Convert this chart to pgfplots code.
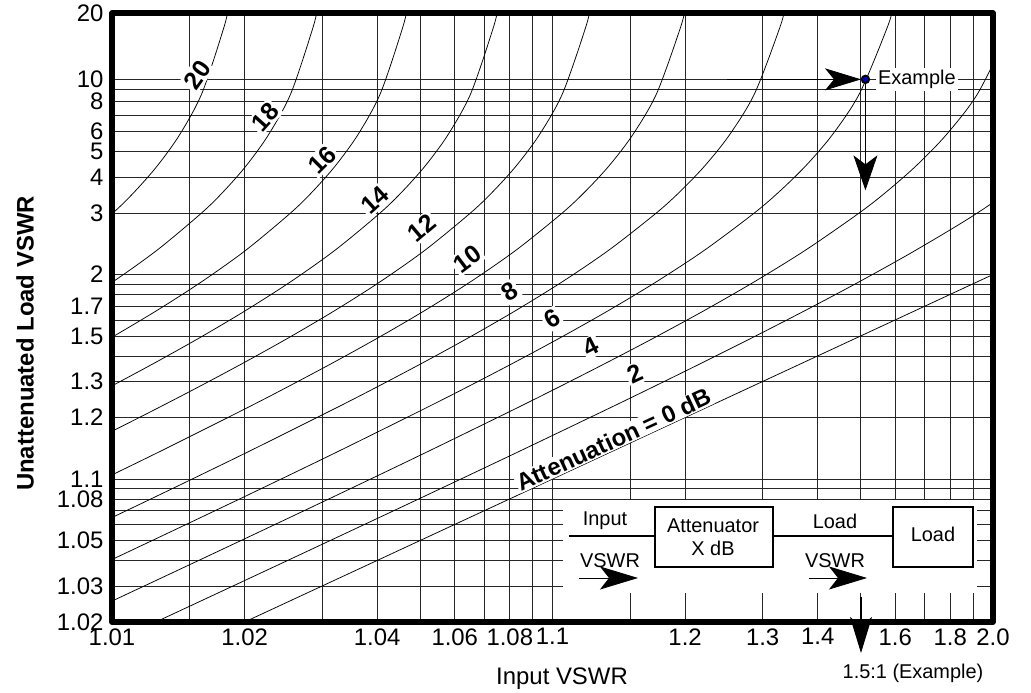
\documentclass[border=0pt]{standalone}
\usepackage{fontspec}
\setmainfont{Liberation Sans}
\usepackage{pgfplots}
\pgfplotsset{compat=1.18}
\usetikzlibrary{arrows.meta}
\begin{document}
\begin{tikzpicture}
\useasboundingbox (-112bp,-71bp) rectangle (919bp,622bp);
\begin{axis}[
  at={(0,0)}, anchor=south west,
  scale only axis, width=881bp, height=609bp,
  xmin=-2, xmax=0, ymin=-1.69897, ymax=1.27875,
  clip mode=individual,
  xtick={-2,-1.69897,-1.39794,-1.22185,-1.09691,-1,-0.69897,-0.52288,-0.39794,-0.22185,-0.09691,0},
  xticklabels={1.01,1.02,1.04,1.06,1.08,1.1,1.2,1.3,1.4,1.6,1.8,2.0},
  minor xtick={-1.82391,-1.52288,-1.30103,-1.15490,-1.04576,-0.82391,-0.30103,-0.15490,-0.04576},
  ytick={-1.69897,-1.52288,-1.30103,-1.09691,-1,-0.69897,-0.52288,-0.30103,-0.15490,0,0.30103,0.47712,0.60206,0.69897,0.84510,0.95424,1.27875},
  yticklabels={1.02,1.03,1.05,1.08,1.1,1.2,1.3,1.5,1.7,2,3,4,5,6,8,10,20},
  minor ytick={-1.39794,-1.22185,-1.15490,-1.04576,-0.39794,-0.22185,-0.09691,-0.04576,0.77815,0.90309},
  grid=both,
  major grid style={black!85, line width=0.65pt},
  minor grid style={black!85, line width=0.65pt},
  major tick length=0pt, minor tick length=0pt,
  tick label style={font=\fontsize{24}{24}\selectfont},
  xticklabel style={yshift=-3bp},
  yticklabel style={xshift=-5bp},
  xlabel={Input VSWR},
  ylabel={\bfseries Unattenuated Load VSWR},
  label style={font=\fontsize{24}{24}\selectfont},
  xlabel style={at={(axis description cs:0.5108,-0.0936)}, anchor=center},
  ylabel style={at={(axis description cs:-0.0988,0.4573)}, anchor=center},
]
% 0 dB
\addplot[black, line width=0.75pt] coordinates {(-2.1,-2.1) (0.1,0.1)};
% 2 dB
\addplot[black, line width=0.75pt, smooth] coordinates {
(-2.09724,-1.89622) (-1.89622,-1.69461) (-1.69461,-1.49203) (-1.49203,-1.28792)
(-1.28792,-1.08133) (-1.08133,-0.87067) (-0.87067,-0.65321) (-0.76302,-0.54054)
(-0.65321,-0.42403) (-0.54054,-0.30232) (-0.42403,-0.17334) (-0.30232,-0.03388)
(-0.17334,0.12151) (-0.03388,0.30309) (0.12151,0.53395)};
% 4 dB
\addplot[black, line width=0.75pt, smooth] coordinates {
(-2.09724,-1.69461) (-1.89622,-1.49203) (-1.69461,-1.28792) (-1.49203,-1.08133)
(-1.28792,-0.87067) (-1.08133,-0.65321) (-0.97664,-0.54054) (-0.87067,-0.42403)
(-0.76302,-0.30232) (-0.65321,-0.17334) (-0.54054,-0.03388) (-0.42403,0.12151)
(-0.30232,0.30309) (-0.23890,0.40989) (-0.17334,0.53395) (-0.10519,0.68557)
(-0.03388,0.88786) (0.04134,1.21460)};
% 6 dB
\addplot[black, line width=0.75pt, smooth] coordinates {
(-2.09724,-1.49203) (-1.89622,-1.28792) (-1.69461,-1.08133) (-1.49203,-0.87067)
(-1.28792,-0.65321) (-1.18501,-0.54054) (-1.08133,-0.42403) (-0.97664,-0.30232)
(-0.87067,-0.17334) (-0.76302,-0.03388) (-0.65321,0.12151) (-0.54054,0.30309)
(-0.48284,0.40989) (-0.42403,0.53395) (-0.36393,0.68557) (-0.30232,0.88786)
(-0.23890,1.21460) (-0.22598,1.31660)};
% 8 dB
\addplot[black, line width=0.75pt, smooth] coordinates {
(-2.09724,-1.28792) (-1.89622,-1.08133) (-1.69461,-0.87067) (-1.49203,-0.65321)
(-1.39022,-0.54054) (-1.28792,-0.42403) (-1.18501,-0.30232) (-1.08133,-0.17334)
(-0.97664,-0.03388) (-0.87067,0.12151) (-0.76302,0.30309) (-0.70843,0.40989)
(-0.65321,0.53395) (-0.59728,0.68557) (-0.54054,0.88786) (-0.48284,1.21460)
(-0.47117,1.31660)};
% 10 dB
\addplot[black, line width=0.75pt, smooth] coordinates {
(-2.09724,-1.08133) (-1.89622,-0.87067) (-1.69461,-0.65321) (-1.59347,-0.54054)
(-1.49203,-0.42403) (-1.39022,-0.30232) (-1.28792,-0.17334) (-1.18501,-0.03388)
(-1.08133,0.12151) (-0.97664,0.30309) (-0.92383,0.40989) (-0.87067,0.53395)
(-0.81708,0.68557) (-0.76302,0.88786) (-0.70843,1.21460) (-0.69744,1.31660)};
% 12 dB
\addplot[black, line width=0.75pt, smooth] coordinates {
(-2.09724,-0.87067) (-1.99679,-0.76302) (-1.89622,-0.65321) (-1.79551,-0.54054)
(-1.69461,-0.42403) (-1.59347,-0.30232) (-1.49203,-0.17334) (-1.39022,-0.03388)
(-1.28792,0.12151) (-1.18501,0.30309) (-1.13328,0.40989) (-1.08133,0.53395)
(-1.02912,0.68557) (-0.97664,0.88786) (-0.92383,1.21460) (-0.91323,1.31660)};
% 14 dB
\addplot[black, line width=0.75pt, smooth] coordinates {
(-2.09724,-0.65321) (-1.99679,-0.54054) (-1.89622,-0.42403) (-1.79551,-0.30232)
(-1.69461,-0.17334) (-1.59347,-0.03388) (-1.49203,0.12151) (-1.39022,0.30309)
(-1.33914,0.40989) (-1.28792,0.53395) (-1.23655,0.68557) (-1.18501,0.88786)
(-1.13328,1.21460) (-1.12291,1.31660)};
% 16 dB
\addplot[black, line width=0.75pt, smooth] coordinates {
(-2.09724,-0.42403) (-1.99679,-0.30232) (-1.89622,-0.17334) (-1.79551,-0.03388)
(-1.69461,0.12151) (-1.59347,0.30309) (-1.54279,0.40989) (-1.49203,0.53395)
(-1.44118,0.68557) (-1.39022,0.88786) (-1.33914,1.21460) (-1.32891,1.31660)};
% 18 dB
\addplot[black, line width=0.75pt, smooth] coordinates {
(-2.09724,-0.17334) (-1.99679,-0.03388) (-1.89622,0.12151) (-1.79551,0.30309)
(-1.74508,0.40989) (-1.69461,0.53395) (-1.64407,0.68557) (-1.59347,0.88786)
(-1.54279,1.21460) (-1.53265,1.31660)};
% 20 dB
\addplot[black, line width=0.75pt, smooth] coordinates {
(-2.09724,0.12151) (-1.99679,0.30309) (-1.94652,0.40989) (-1.89622,0.53395)
(-1.84588,0.68557) (-1.79551,0.88786) (-1.74508,1.21460) (-1.73499,1.31660)};
% example arrows
\draw[line width=0.8pt, -{Stealth[length=36bp,width=22bp,inset=9bp]}] (axis cs:-0.60386,0.95424) -- (axis cs:-0.29966,0.95424);
\draw[line width=0.8pt, -{Stealth[length=35bp,width=24bp,inset=9bp]}] (axis cs:-0.2896,0.93) -- (axis cs:-0.2896,0.4115);
\addplot[only marks, mark=*, mark size=3.8pt, mark options={fill=blue!70!black, draw=black, line width=1.8pt}] coordinates {(-0.2896,0.95424)};
\node[anchor=west, fill=white, inner sep=2.5bp, font=\fontsize{20}{20}\selectfont] at (axis cs:-0.2669,0.95424) {Example};
\end{axis}
\begin{scope}[x=1bp, y=-1bp, shift={(-112bp,622bp)}]
\tikzset{lbl/.style={fill=white, inner sep=2bp, font=\fontsize{25}{25}\selectfont\bfseries}}
\node[lbl, rotate=55] at (197,75) {20};
\node[lbl, rotate=48] at (265,117) {18};
\node[lbl, rotate=45] at (322,160) {16};
\node[lbl, rotate=42] at (375,200) {14};
\node[lbl, rotate=40] at (422,228) {12};
\node[lbl, rotate=37] at (467,259) {10};
\node[lbl, rotate=33] at (510,292) {8};
\node[lbl, rotate=30] at (552,319) {6};
\node[lbl, rotate=27] at (591,347) {4};
\node[lbl, rotate=25] at (635,374) {2};
\node[fill=white, inner sep=1bp, anchor=south, rotate=24.9, font=\fontsize{24}{24}\selectfont\bfseries] at (617.8,448.6) {Attenuation = 0 dB};
% inset
\fill[white] (563,500) rectangle (977,593);
\draw[line width=2pt] (569,536) -- (655,536);
\draw[line width=2pt] (773,536) -- (893,536);
\draw[line width=1.5pt] (655,507) rectangle (773,567);
\draw[line width=1.5pt] (893,507) rectangle (973,567);
\node[font=\fontsize{20}{23}\selectfont, align=center] at (713,537) {Attenuator\\X dB};
\node[font=\fontsize{20}{20}\selectfont] at (933,534) {Load};
\node[font=\fontsize{20}{20}\selectfont] at (605,521) {Input};
\node[font=\fontsize{20}{20}\selectfont] at (835,521) {Load};
\node[font=\fontsize{20}{20}\selectfont] at (610,561) {VSWR};
\node[font=\fontsize{20}{20}\selectfont] at (835,561) {VSWR};
\draw[line width=0.8pt, -{Stealth[length=38bp,width=23bp,inset=9bp]}] (579,578) -- (638,578);
\draw[line width=0.8pt, -{Stealth[length=38bp,width=23bp,inset=9bp]}] (809,578) -- (867,578);
% frame
\draw[line width=5.5bp, line join=round] (112,13) rectangle (993,622);
% bottom example arrow
\draw[line width=1.2pt, -{Stealth[length=36bp,width=22bp,inset=9bp]}] (861,597) -- (861,653);
\node[font=\fontsize{20}{20}\selectfont] at (913,673) {1.5:1 (Example)};
\end{scope}
\end{tikzpicture}
\end{document}
